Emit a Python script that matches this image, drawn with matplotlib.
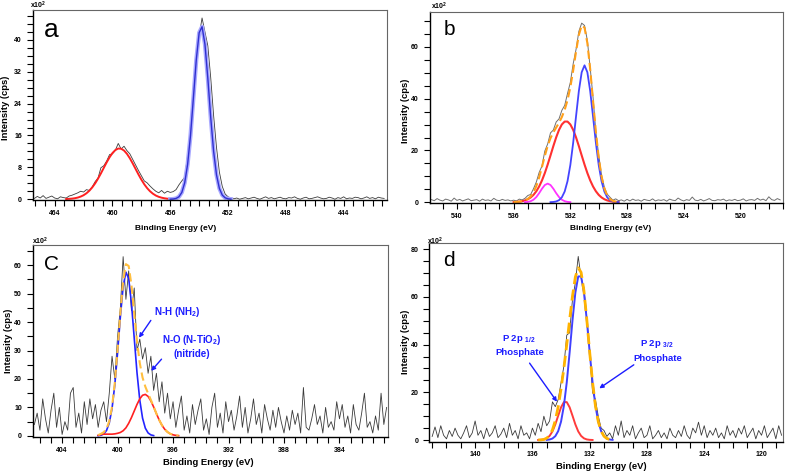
import numpy as np
import matplotlib
matplotlib.use("Agg")
import matplotlib.pyplot as plt
from matplotlib.ticker import MultipleLocator

plt.rcParams['font.family'] = ['Liberation Sans', 'DejaVu Sans']
plt.rcParams['mathtext.fontset'] = 'custom'
plt.rcParams['mathtext.rm'] = 'Liberation Sans:bold'
plt.rcParams['mathtext.it'] = 'Liberation Sans:bold'
plt.rcParams['mathtext.bf'] = 'Liberation Sans:bold'
plt.rcParams['mathtext.default'] = 'rm'

STEP = 0.2  # eV between points

# ---- panel a : Ti 2p ----
a_start = 465.4
a_data = [0.2, 0.7, 0.3, 0.9, 0.2, 0.5, 0.8, 0.3, 0.1, 0.6, 0.4, 0.3, 0.8, 1.0, 1.3, 1.6, 2.0, 1.8,
          2.4, 2.2, 3.1, 4.4, 5.3, 7.9, 8.4, 9.6, 11.2, 11.4, 12.3, 14.0, 12.6, 13.3, 12.2, 11.4,
          10.0, 8.6, 7.2, 5.9, 4.6, 4.1, 3.3, 2.6, 2.0, 1.6, 2.2, 1.5, 2.0, 1.7, 1.9, 2.4,
          3.6, 4.6, 5.5, 11.0, 16.5, 25.0, 34.5, 41.0, 45.5, 42.0, 38.5, 30.5, 21.0, 13.0, 6.8, 3.2, 1.3, 0.6, 0.3,
          0.1, 0.3, 0.0, 0.2, 0.4, 0.1, 0.3, 0.5, 0.2, 0.0, 0.3, 0.6, 0.2, 0.4, 0.1, 0.3, 0.5, 0.2, 0.1, 0.4,
          0.3, 0.6, 0.2, 0.0, 0.3, 0.5, 0.1, 0.2, 0.4, 0.6, 0.3, 0.1, 0.2, 0.5, 0.3, 0.0, 0.4, 0.2, 0.6, 0.1,
          0.3, 0.2, 0.5, 0.4, 0.1, 0.3, 0.6, 0.2, 0.4, 0.1, 0.5, 0.3, 0.2]
a_red_start = 463.2
a_red = [0.05, 0.09, 0.15, 0.25, 0.41, 0.66, 1.00, 1.49, 2.13, 2.96, 3.97, 5.16, 6.48, 7.88, 9.26, 10.53,
         11.59, 12.34, 12.72, 12.67, 12.22, 11.40, 10.29, 8.99, 7.60, 6.21, 4.91, 3.75, 2.78, 1.99, 1.38,
         0.92, 0.60, 0.38, 0.23, 0.13, 0.08, 0.04]
a_blue_start = 456.0
a_blue = [0.01, 0.05, 0.19, 0.60, 1.70, 4.13, 8.73, 15.99, 25.39, 34.98, 41.80, 43.30, 38.92, 30.34,
          20.51, 12.02, 6.12, 2.70, 1.03, 0.34, 0.10, 0.02]

# ---- panel b : O 1s ----
b_start = 541.8
b_data = [1.0, 0.6, 1.4, 0.8, 0.5, 1.2, 0.9, 0.4, 1.6, 0.7, 1.1, 0.5, 0.9, 1.3, 0.6, 0.8, 1.0, 0.4, 1.2, 0.7,
          0.9, 0.5, 1.5, 0.8, 0.6, 1.1, 0.7, 0.9, 0.5,
          0.8, 0.5, 1.2, 0.9, 1.5, 2.6, 3.0, 5.2, 7.8, 11.5, 14.0, 19.8, 22.5, 26.8, 27.9, 31.0, 32.2, 35.5,
          37.4, 42.0, 46.3, 53.5, 59.0, 66.0, 69.2, 68.3, 62.5, 51.8, 40.6, 27.0, 18.3, 10.5, 5.8, 3.1, 1.9,
          0.8, 1.3, 0.6, 0.9, 0.4, 1.1,
          0.5, 1.2, 0.7, 0.9, 0.4, 1.1, 0.8, 0.6, 1.3, 0.5, 0.9, 0.7, 1.0, 0.4, 1.2, 0.8, 0.6, 1.6, 0.9, 0.5,
          1.0, 0.7, 2.0, 0.8, 0.6, 1.1, 0.5, 0.9, 1.4, 0.7, 0.6, 1.0, 0.8, 1.2, 0.5, 0.9, 0.7, 1.1, 0.6, 0.8,
          1.3, 0.5, 0.9, 1.0, 0.7, 1.5, 0.8, 1.2, 0.6, 2.1, 1.0, 0.7, 1.4, 0.9]
b_blue_start = 533.4
b_blue = [0.03, 0.10, 0.29, 0.78, 1.89, 4.14, 8.13, 14.41, 23.01, 33.12, 42.96, 50.22, 52.90, 50.22,
          42.96, 33.12, 23.01, 14.41, 8.13, 4.14, 1.89, 0.78, 0.29, 0.10, 0.03]
b_red_start = 536.0
b_red = [0.06, 0.12, 0.22, 0.40, 0.69, 1.15, 1.84, 2.84, 4.24, 6.09, 8.44, 11.28, 14.55, 18.08, 21.68,
         25.06, 27.94, 30.05, 31.16, 31.16, 30.05, 27.94, 25.06, 21.68, 18.08, 14.55, 11.28, 8.44, 6.09,
         4.24, 2.84, 1.84, 1.15, 0.69, 0.40, 0.22, 0.12, 0.06]
b_mag_start = 535.2
b_mag = [0.04, 0.14, 0.40, 0.97, 2.00, 3.50, 5.23, 6.65, 7.20, 6.65, 5.23, 3.50, 2.00, 0.97, 0.40, 0.14, 0.04]
b_env_start = 536.0
b_env = [0.06, 0.12, 0.22, 0.40, 0.73, 1.29, 2.24, 3.81, 6.24, 9.59, 13.67, 17.93, 21.75, 24.76, 27.01,
         28.85, 30.72, 32.91, 35.70, 39.43, 44.50, 50.95, 58.18, 64.64, 68.30, 67.45, 61.50, 51.40, 39.21,
         27.25, 17.25, 9.97, 5.29, 2.58, 1.18, 0.51, 0.22, 0.09]

# ---- panel c : N 1s ----
c_start = 406.0
c_data = [4, 8, 2, 13, 6, 1, 9, 15, 3, 10, 0.5, 5, 2, 15, 17, 3, 8, 1, 12, 4, 13, 6, 11, 3, 9,
          12, 5, 15, 28, 20, 35, 45, 63, 48, 58, 44, 52, 30, 34, 27, 31, 22, 28, 16, 22, 12, 19, 8, 15, 6, 12, 3, 9,
          14, 2, 7, 1, 11, 4, 9, 13, 2, 6, 0.5, 10, 15, 3, 8, 1, 12, 5, 9, 2,
          7, 14, 3, 10, 1, 6, 13, 4, 8, 1, 11, 6, 2, 9, 3, 10, 5, 1, 7, 2,
          9, 4, 8, 1, 17, 3, 2, 6, 11, 4, 7, 1, 10, 3, 5, 2, 12, 6, 11, 3,
          7, 1, 11, 4, 2, 8, 15, 3, 5, 1, 7, 2, 15, 4, 10]
c_fit_start = 401.4
c_blue = [0.06, 0.21, 0.68, 1.87, 4.54, 9.65, 17.98, 29.31, 41.89, 52.46, 57.55, 55.31, 46.57, 34.37,
          22.21, 12.58, 6.24, 2.71, 1.03, 0.34, 0.10]
c_red = [0.2, 0.5, 0.6, 0.6, 0.6, 0.6, 0.7, 0.9, 1.2, 1.8, 2.82, 4.42, 6.44, 8.74, 11.05, 13.01, 14.27,
         14.58, 13.87, 12.29, 10.15, 7.80, 5.58, 3.72, 2.31, 1.34, 0.72, 0.36, 0.17, 0.07]
c_env = [0.26, 0.71, 1.28, 2.47, 5.14, 10.25, 18.68, 30.21, 43.09, 54.26, 60.37, 59.73, 53.01, 43.11,
         33.26, 25.59, 20.51, 17.29, 14.90, 12.63, 10.25, 7.80, 5.58, 3.72, 2.31, 1.34, 0.72, 0.36, 0.17, 0.07]

# ---- panel d : P 2p ----
d_start = 143.0
d_data = [1.5, 5.5, 1, 6, 2, 0.5, 4, 1.5, 5, 2, 0.5, 3, 6, 1, 3, 8, 2, 4, 0.5, 5, 1.5, 3, 6, 1, 2.5, 5,
          1, 7, 2, 4, 0.5, 6, 2, 3, 0.5, 5,
          2, 7, 3.5, 10, 6, 8, 16, 14, 17, 24, 31, 44, 45, 59, 66, 77, 68, 64, 51, 38, 20, 17, 10, 5, 4,
          1.5, 3, 0.5,
          6, 2, 8, 1, 4, 2, 6, 0.5, 3, 5, 1, 2, 6, 0.5, 2, 4, 1, 3, 0.5, 5, 2, 1, 4, 1.5, 6, 2, 0.5, 5,
          3, 7.5, 2, 6, 1, 4, 2, 5, 1, 3, 0.5, 6, 2, 4, 1, 5, 2.5, 6, 1, 3, 5, 0.5, 4, 2, 6, 1, 3, 5,
          0.5, 6, 2]
d_blue_start = 135.0
d_blue = [0.07, 0.22, 0.63, 1.62, 3.72, 7.72, 14.40, 24.24, 36.74, 50.21, 61.82, 68.60, 68.60, 61.82,
          50.21, 36.74, 24.24, 14.40, 7.72, 3.72, 1.62, 0.63, 0.22, 0.07]
d_red_start = 135.6
d_red = [0.02, 0.08, 0.25, 0.71, 1.73, 3.62, 6.55, 10.20, 13.72, 15.90, 15.90, 13.72, 10.20, 6.55, 3.62,
         1.73, 0.71, 0.25, 0.08, 0.02]
d_env_start = 135.6
d_env = [0.02, 0.08, 0.25, 0.78, 1.95, 4.25, 8.17, 13.92, 21.44, 30.30, 40.14, 50.46, 60.41, 68.37,
         72.22, 70.33, 62.53, 50.46, 36.82, 24.26, 14.40, 7.72, 3.72, 1.62, 0.63, 0.22, 0.07]


def energies(start, values):
    return start - STEP * np.arange(len(values))


W, H = 787, 473


def px(x, y):
    return x / W, 1 - y / H


fig = plt.figure(figsize=(W / 100, H / 100), dpi=100)


def make_axes(left, top, right, bottom, xlim, ylim, xmaj, xmin, ymaj, ymin):
    ax = fig.add_axes([left / W, 1 - bottom / H, (right - left) / W, (bottom - top) / H])
    ax.set_xlim(*xlim)
    ax.set_ylim(*ylim)
    ax.xaxis.set_major_locator(MultipleLocator(xmaj))
    ax.xaxis.set_minor_locator(MultipleLocator(xmin))
    ax.yaxis.set_major_locator(MultipleLocator(ymaj))
    ax.yaxis.set_minor_locator(MultipleLocator(ymin))
    ax.tick_params(axis='x', which='both', direction='out', length=4.5, width=0.8, labelsize=5, pad=2.5)
    ax.tick_params(axis='y', which='both', direction='out', length=4.5, width=0.8, labelsize=5, pad=3.5)
    for lab in ax.get_xticklabels() + ax.get_yticklabels():
        lab.set_fontweight('bold')
    for s in ('top', 'right'):
        ax.spines[s].set_color('#666666')
        ax.spines[s].set_linewidth(0.8)
    for s in ('left', 'bottom'):
        ax.spines[s].set_color('black')
        ax.spines[s].set_linewidth(1.0)
    return ax


# panel a
ax = make_axes(33, 10, 387, 200, (465.5, 441.0), (-0.2, 47.5), 4, 4 / 6, 8, 2)
ax.plot(energies(a_start, a_data), a_data, color='#3c3c3c', lw=0.6)
ax.plot(energies(a_red_start, a_red), a_red, color='#ff2020', lw=1.4)
ax.plot(energies(a_blue_start, a_blue), a_blue, color='#a9a9ff', lw=3.0)
ax.plot(energies(a_blue_start, a_blue), a_blue, color='#2f2fd0', lw=1.0)
ax.text(0.03, 0.96, 'a', transform=ax.transAxes, fontsize=19, va='top', ha='left')

# panel b
ax = make_axes(430, 12, 783, 203, (541.9, 517.0), (-0.3, 73.5), 4, 1, 20, 5)
ax.plot(energies(b_start, b_data), b_data, color='#707070', lw=0.7)
ax.plot(energies(b_red_start, b_red), b_red, color='#ff3030', lw=1.5)
ax.plot(energies(b_mag_start, b_mag), b_mag, color='#ff33ff', lw=1.3)
ax.plot(energies(b_blue_start, b_blue), b_blue, color='#4444ff', lw=1.3)
ax.plot(energies(b_env_start, b_env), b_env, color='#ffa01a', lw=1.5, ls=(0, (4, 2)))
ax.text(0.04, 0.96, 'b', transform=ax.transAxes, fontsize=15, va='top', ha='left')

# panel c
ax = make_axes(33, 245, 388, 437, (406.1, 380.5), (-0.4, 67.1), 4, 0.8, 10, 5)
ax.plot(energies(c_start, c_data), c_data, color='#3a3a3a', lw=0.6)
ax.plot(energies(c_fit_start, c_blue), c_blue, color='#2424ff', lw=1.2)
ax.plot(energies(c_fit_start, c_red), c_red, color='#ff2020', lw=1.2)
ax.plot(energies(c_fit_start, c_env), c_env, color='#ffbf40', lw=1.5, ls=(0, (4, 2)))
ax.text(0.03, 0.95, 'C', transform=ax.transAxes, fontsize=15, va='top', ha='left')
blue_txt = '#1c1cff'
ax.text(397.41, 43.6, 'N-H (NH$_2$)', color=blue_txt, fontsize=7, fontweight='bold', ha='left', va='center')
ax.annotate('', xy=(398.57, 33.7), xytext=(397.49, 41.4),
            arrowprops=dict(arrowstyle='-|>', color=blue_txt, lw=1.0, mutation_scale=6))
ax.text(394.68, 33.6, 'N-O (N-TiO$_2$)', color=blue_txt, fontsize=7, fontweight='bold', ha='center', va='center')
ax.text(394.68, 28.8, '(nitride)', color=blue_txt, fontsize=7, fontweight='bold', ha='center', va='center')
ax.annotate('', xy=(397.71, 22.1), xytext=(396.70, 27.7),
            arrowprops=dict(arrowstyle='-|>', color=blue_txt, lw=1.0, mutation_scale=6))

# panel d
ax = make_axes(429.3, 243.3, 783, 441.7, (143.2, 118.5), (-0.7, 82.5), 4, 1, 20, 5)
ax.plot(energies(d_start, d_data), d_data, color='#3a3a3a', lw=0.6)
ax.plot(energies(d_red_start, d_red), d_red, color='#ff3b3b', lw=1.4)
ax.plot(energies(d_blue_start, d_blue), d_blue, color='#4040ff', lw=1.4)
ax.plot(energies(d_env_start, d_env), d_env, color='#ffb300', lw=2.0, ls=(0, (4, 2)))
ax.text(0.04, 0.96, 'd', transform=ax.transAxes, fontsize=15, va='top', ha='left')
ax.text(136.96, 42.4, 'P 2p $_{1/2}$', color=blue_txt, fontsize=6.8, fontweight='bold', ha='center', va='center')
ax.text(136.85, 36.6, 'Phosphate', color=blue_txt, fontsize=6.8, fontweight='bold', ha='center', va='center')
ax.annotate('', xy=(134.17, 15.1), xytext=(136.31, 33.2),
            arrowprops=dict(arrowstyle='-|>', color=blue_txt, lw=1.0, mutation_scale=6))
ax.text(127.31, 40.2, 'P 2p $_{3/2}$', color=blue_txt, fontsize=6.8, fontweight='bold', ha='center', va='center')
ax.text(127.27, 34.4, 'Phosphate', color=blue_txt, fontsize=6.8, fontweight='bold', ha='center', va='center')
ax.annotate('', xy=(131.49, 21.0), xytext=(128.76, 32.2),
            arrowprops=dict(arrowstyle='-|>', color=blue_txt, lw=1.0, mutation_scale=6))

# axis titles and multipliers
xlab = [(176, 228, 6.0), (611, 228, 6.0), (208, 462, 6.8), (601, 466.7, 6.8)]
for x, y, fs in xlab:
    fig.text(*px(x, y), 'Binding Energy (eV)', fontsize=fs, fontweight='bold', ha='center', va='center')
ylab = [(6, 108), (405, 111), (9, 341), (405, 342)]
for x, y in ylab:
    fig.text(*px(x, y), 'Intensity (cps)', fontsize=6.8, fontweight='bold', rotation=90,
             ha='center', va='center')
mult = [(30, 5), (431, 6), (32, 241), (427, 241)]
for x, y in mult:
    fig.text(*px(x, y), 'x10$^2$', fontsize=5, fontweight='bold', ha='left', va='center')

fig.savefig('out.png', dpi=100)
